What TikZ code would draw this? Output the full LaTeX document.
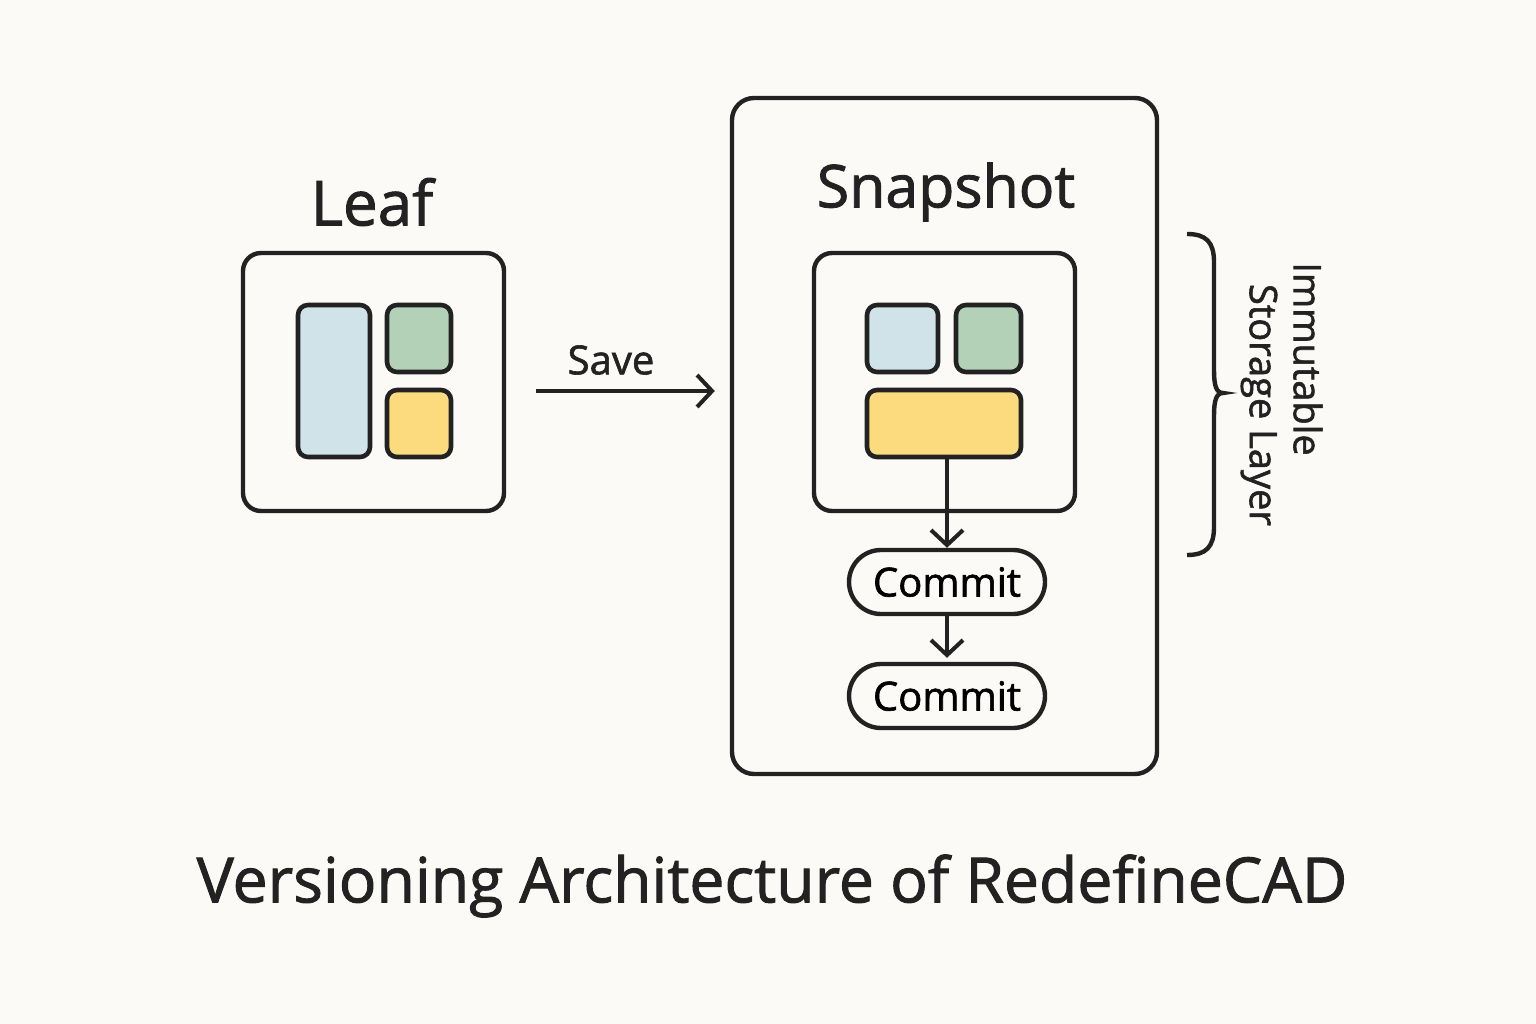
\documentclass[tikz,border=0pt]{standalone}
\usepackage{fontspec}
\setmainfont{Open Sans}[FakeBold=1.5]
\usepackage{xcolor}
\usetikzlibrary{arrows.meta}
\definecolor{bgpaper}{HTML}{FBFAF6}
\definecolor{ink}{HTML}{222222}
\definecolor{tileblue}{HTML}{CFE3E8}
\definecolor{tilegreen}{HTML}{B3D1B6}
\definecolor{tileyellow}{HTML}{FCDA7E}

\begin{document}
\begin{tikzpicture}[x=1pt, y=-1pt,
  box/.style={draw=ink, line width=4.4pt, rounded corners=18pt, inner sep=0pt},
  tile/.style={draw=ink, line width=4.6pt, rounded corners=10pt, inner sep=0pt},
  pill/.style={draw=ink, line width=4.4pt, rounded corners=32pt, inner sep=0pt,
    minimum width=196pt, minimum height=64pt, font=\fontsize{40}{44}\selectfont},
  flow/.style={draw=ink, line width=4pt, -{Straight Barb[length=15pt,width=32pt,line width=4pt]}},
  lbl/.style={text=ink, inner sep=0pt}]
  \fill[bgpaper] (0,0) rectangle (1536,1024);
  \node[box, minimum width=261pt, minimum height=258pt] (leaf) at (373.5,382) {};
  \node[tile, fill=tileblue, minimum width=72pt, minimum height=152pt] (lblue) at (334,381) {};
  \node[tile, fill=tilegreen, minimum width=64pt, minimum height=67pt] (lgreen) at (419,338.5) {};
  \node[tile, fill=tileyellow, minimum width=64pt, minimum height=67pt] (lyellow) at (419,423.5) {};
  \node[lbl, font=\fontsize{62}{66}\selectfont] (leaftitle) at (372,202) {Leaf};
  \node[box, rounded corners=22pt, minimum width=425pt, minimum height=676pt] (snap) at (944.5,436) {};
  \node[lbl, font=\fontsize{59}{64}\selectfont] (snaptitle) at (946,192) {Snapshot};
  \node[box, minimum width=261pt, minimum height=258pt] (frame) at (944.5,382) {};
  \node[tile, fill=tileblue, minimum width=71pt, minimum height=67pt] (sblue) at (902.5,338.5) {};
  \node[tile, fill=tilegreen, minimum width=65pt, minimum height=67pt] (sgreen) at (988.5,338.5) {};
  \node[tile, fill=tileyellow, minimum width=154pt, minimum height=67pt] (syellow) at (944,423.5) {};
  \node[pill] (commitA) at (947,582) {Commit};
  \node[pill] (commitB) at (947,696) {Commit};
  \draw[flow] ([xshift=30pt,yshift=-9pt]leaf.east) -- ([xshift=-15pt]snap.west |- 0,391) coordinate (savetip);
  \node[lbl, font=\fontsize{40}{44}\selectfont] (savelbl) at (611,360) {Save};
  \draw[flow] (syellow.south -| commitA.north) -- (commitA.north);
  \draw[flow] (commitA.south) -- ([yshift=4pt]commitB.north);
  \draw[ink, line width=4.4pt] (1187,234) .. controls (1206,234) and (1214,242) .. (1214,262)
    -- (1214,370) .. controls (1214,385) and (1216,393) .. (1223,393)
    .. controls (1216,393) and (1214,401) .. (1214,416)
    -- (1214,527) .. controls (1214,547) and (1206,555) .. (1187,555);
  \node[lbl, rotate=-90, font=\fontsize{38}{42}\selectfont] (immut) at (1308,359) {Immutable};
  \node[lbl, rotate=-90, font=\fontsize{38}{42}\selectfont] (layer) at (1259,405) {Storage Layer};
  \node[lbl, font=\fontsize{62.5}{66}\selectfont] (caption) at (772,886) {Versioning Architecture of RedefineCAD};
\end{tikzpicture}
\end{document}
